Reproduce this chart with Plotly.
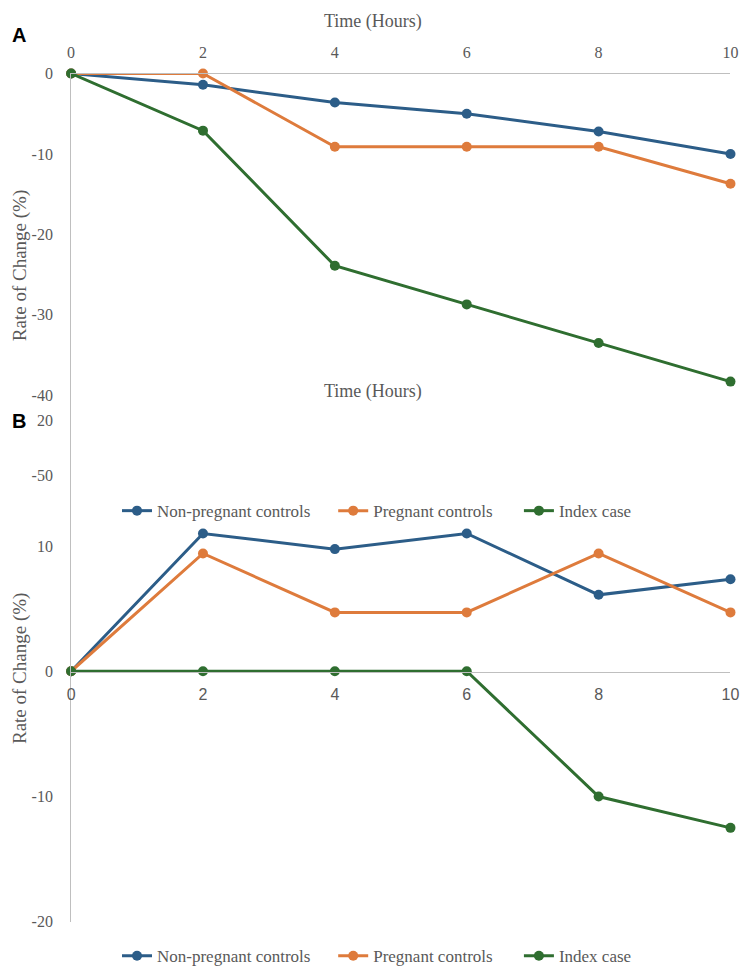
import plotly.graph_objects as go

hours = [0, 2, 4, 6, 8, 10]
series_names = ["Non-pregnant controls", "Pregnant controls", "Index case"]

# Panel A
a_nonpreg = [0, -1.4, -3.6, -5.0, -7.2, -10.0]
a_preg = [0, 0, -9.1, -9.1, -9.1, -13.7]
a_index = [0, -7.1, -23.9, -28.7, -33.5, -38.3]
a_yticks = [0, -10, -20, -30, -40, -50]
a_yticklabels = ["0", "-10", "-20", "-30", "-40", "-50"]

# Panel B
b_nonpreg = [0, 11.0, 9.75, 11.0, 6.1, 7.35]
b_preg = [0, 9.4, 4.7, 4.7, 9.4, 4.7]
b_index = [0, 0, 0, 0, -10.0, -12.5]
b_yticks = [20, 10, 0, -10, -20]
b_yticklabels = ["20", "10", "0", "-10", "-20"]

colors = ["#2C5D88", "#DE7B3C", "#2F6E30"]

W, H = 750, 978
GRAY = "#595959"
LINEC = "#BFBFBF"
SERIF = "Liberation Serif, Times New Roman, serif"


def py(px):
    return 1 - px / H


def pxf(px):
    return px / W


fig = go.Figure()
legend_x = [115, 335, 524]
legend_keys = ["legend", "legend2", "legend3", "legend4", "legend5", "legend6"]
for i, (name, vals, c) in enumerate(zip(series_names, [a_nonpreg, a_preg, a_index], colors)):
    fig.add_trace(go.Scatter(x=hours, y=vals, name=name, mode="lines+markers",
                             line=dict(color=c, width=3), marker=dict(color=c, size=10),
                             xaxis="x", yaxis="y", legend=legend_keys[i], showlegend=True,
                             cliponaxis=False))
for i, (name, vals, c) in enumerate(zip(series_names, [b_nonpreg, b_preg, b_index], colors)):
    fig.add_trace(go.Scatter(x=hours, y=vals, name=name, mode="lines+markers",
                             line=dict(color=c, width=3), marker=dict(color=c, size=10),
                             xaxis="x2", yaxis="y2", legend=legend_keys[i + 3], showlegend=True,
                             cliponaxis=False))

xdom = [pxf(68.3), pxf(739.3)]
tickfont = dict(family=SERIF, size=16, color=GRAY)

layout = dict(
    width=W, height=H, margin=dict(l=0, r=0, t=0, b=0),
    paper_bgcolor="white", plot_bgcolor="rgba(0,0,0,0)",
    font=dict(family=SERIF, color=GRAY),
    showlegend=True,
    xaxis=dict(domain=xdom, range=[0, 10], tickvals=hours, side="top", anchor="y",
               showline=True, linecolor=LINEC, linewidth=1, showgrid=False, zeroline=False,
               tickfont=tickfont, ticks="", ticklabelstandoff=8),
    yaxis=dict(domain=[py(476), py(66.7)], range=[-50, 0], tickvals=a_yticks, ticktext=a_yticklabels,
               anchor="x", showline=True, linecolor=LINEC, linewidth=1, showgrid=False, zeroline=False,
               tickfont=tickfont, ticks="", ticklabelstandoff=14),
    xaxis2=dict(domain=xdom, range=[0, 10], tickvals=hours, anchor="free", position=py(676),
                side="bottom", showline=True, linecolor=LINEC, linewidth=1, showgrid=False,
                zeroline=False,
                tickfont=dict(family="Liberation Sans Narrow, Arial Narrow, sans-serif", size=16, color=GRAY),
                ticks="", ticklabelstandoff=8),
    yaxis2=dict(domain=[py(930), py(420)], range=[-20, 20], tickvals=b_yticks, ticktext=b_yticklabels,
                anchor="x2", showline=True, linecolor=LINEC, linewidth=1, showgrid=False, zeroline=False,
                tickfont=tickfont, ticks="", ticklabelstandoff=14),
)
for i, key in enumerate(legend_keys):
    ypx = 512 if i < 3 else 965
    layout[key] = dict(visible=True, orientation="h", x=pxf(legend_x[i % 3]), xanchor="left", y=py(ypx),
                       yanchor="middle", font=dict(family=SERIF, size=17, color=GRAY),
                       bgcolor="rgba(0,0,0,0)")
fig.update_layout(**layout)

ann = [
    dict(text="Time (Hours)", x=pxf(375), y=py(14), font=dict(size=18)),
    dict(text="Time (Hours)", x=pxf(375), y=py(390), font=dict(size=18)),
    dict(text="Rate of Change (%)", x=pxf(17), y=py(262), textangle=-90, font=dict(size=19)),
    dict(text="Rate of Change (%)", x=pxf(17), y=py(672), textangle=-90, font=dict(size=19)),
    dict(text="<b>A</b>", x=pxf(15), y=py(27), font=dict(size=20, color="black", family="Liberation Sans, Arial, sans-serif")),
    dict(text="<b>B</b>", x=pxf(15), y=py(420), font=dict(size=20, color="black", family="Liberation Sans, Arial, sans-serif")),
]
for a in ann:
    a.update(xref="paper", yref="paper", showarrow=False, xanchor="center", yanchor="middle")
    fig.add_annotation(**a)

fig.write_html("out.html",
               config={"displayModeBar": False},
               post_script="document.body.style.margin='0';document.body.style.overflow='hidden';")
